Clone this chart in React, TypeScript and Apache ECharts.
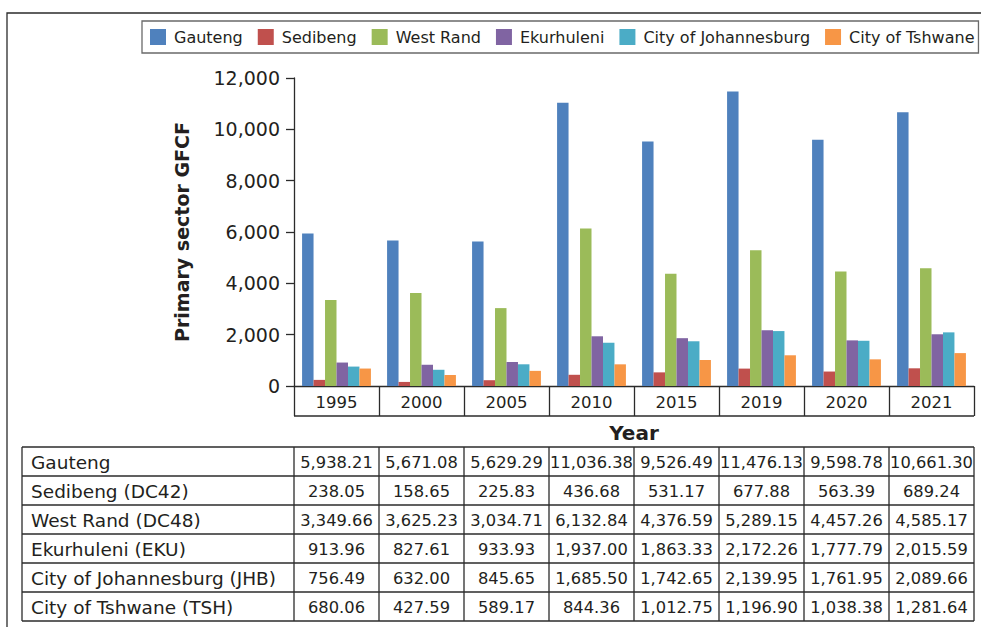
import React, { useEffect, useRef } from "react";
import * as echarts from "echarts";

const years = ["1995", "2000", "2005", "2010", "2015", "2019", "2020", "2021"];
const legendNames = ["Gauteng", "Sedibeng", "West Rand", "Ekurhuleni", "City of Johannesburg", "City of Tshwane"];
const tableNames = [
  "Gauteng",
  "Sedibeng (DC42)",
  "West Rand (DC48)",
  "Ekurhuleni (EKU)",
  "City of Johannesburg (JHB)",
  "City of Tshwane (TSH)",
];
const colors = ["#4F81BD", "#C0504D", "#9BBB59", "#8064A2", "#4BACC6", "#F79646"];

const gauteng = [5938.21, 5671.08, 5629.29, 11036.38, 9526.49, 11476.13, 9598.78, 10661.3];
const sedibeng = [238.05, 158.65, 225.83, 436.68, 531.17, 677.88, 563.39, 689.24];
const westRand = [3349.66, 3625.23, 3034.71, 6132.84, 4376.59, 5289.15, 4457.26, 4585.17];
const ekurhuleni = [913.96, 827.61, 933.93, 1937.0, 1863.33, 2172.26, 1777.79, 2015.59];
const johannesburg = [756.49, 632.0, 845.65, 1685.5, 1742.65, 2139.95, 1761.95, 2089.66];
const tshwane = [680.06, 427.59, 589.17, 844.36, 1012.75, 1196.9, 1038.38, 1281.64];

const seriesData = [gauteng, sedibeng, westRand, ekurhuleni, johannesburg, tshwane];

const FONT = "DejaVu Sans";
const TEXT = "#231f20";
const LINE = "#2b2b2b";

const fmt = (v: number, d = 2) =>
  v.toLocaleString("en-US", { minimumFractionDigits: d, maximumFractionDigits: d });

export default function App() {
  const ref = useRef<HTMLDivElement>(null);
  useEffect(() => {
    if (!ref.current) return;
    const chart = echarts.init(ref.current, undefined, { renderer: "svg" });

    const gridLeft = 294;
    const gridRight = 974;
    const gridTop = 78;
    const gridBottom = 386;
    const cellH = 30;
    const colW = (gridRight - gridLeft) / years.length;

    const tableTop = 447;
    const rowH = 29;
    const tableLeft = 22;

    const graphics: any[] = [];
    graphics.push({
      type: "rect",
      shape: { x: 7, y: 13, width: 1100, height: 800 },
      style: { fill: "none", stroke: LINE, lineWidth: 1.3 },
      silent: true,
    });
    graphics.push({
      type: "line",
      shape: { x1: gridLeft, y1: gridBottom + cellH, x2: gridRight, y2: gridBottom + cellH },
      style: { stroke: LINE, lineWidth: 1.3 },
    });
    for (let r = 0; r <= tableNames.length; r++) {
      const y = tableTop + r * rowH;
      graphics.push({
        type: "line",
        shape: { x1: tableLeft, y1: y, x2: gridRight, y2: y },
        style: { stroke: LINE, lineWidth: 1.3 },
      });
    }
    const vx = [tableLeft];
    for (let c = 0; c <= years.length; c++) vx.push(gridLeft + c * colW);
    vx.forEach((x) =>
      graphics.push({
        type: "line",
        shape: { x1: x, y1: tableTop, x2: x, y2: tableTop + rowH * tableNames.length },
        style: { stroke: LINE, lineWidth: 1.3 },
      })
    );
    tableNames.forEach((name, r) => {
      const cy = tableTop + r * rowH + rowH / 2 + 1;
      graphics.push({
        type: "text",
        x: 31,
        y: cy,
        style: {
          text: name,
          fill: TEXT,
          font: `18.5px "${FONT}"`,
          textAlign: "left",
          textVerticalAlign: "middle",
        },
      });
      seriesData[r].forEach((v, c) => {
        graphics.push({
          type: "text",
          x: gridLeft + c * colW + colW / 2,
          y: cy,
          style: {
            text: fmt(v),
            fill: TEXT,
            font: `16.3px "${FONT}"`,
            textAlign: "center",
            textVerticalAlign: "middle",
          },
        });
      });
    });
    graphics.push({
      type: "text",
      x: (gridLeft + gridRight) / 2,
      y: 433,
      style: {
        text: "Year",
        fill: TEXT,
        font: `bold 20px "${FONT}"`,
        textAlign: "center",
        textVerticalAlign: "middle",
      },
    });

    chart.setOption({
      animation: false,
      color: colors,
      textStyle: { fontFamily: FONT },
      legend: {
        data: legendNames,
        left: 142,
        top: 21,
        itemWidth: 16,
        itemHeight: 16,
        itemGap: 15,
        icon: "rect",
        padding: [8, 4, 8, 8],
        borderColor: "#6a6a6a",
        borderWidth: 1.3,
        textStyle: { fontSize: 16, color: TEXT, fontFamily: FONT, padding: [0, 0, 0, 3] },
      },
      grid: {
        left: gridLeft,
        right: 981 - gridRight,
        top: gridTop,
        bottom: 627 - gridBottom,
        containLabel: false,
      },
      xAxis: {
        type: "category",
        data: years,
        boundaryGap: true,
        axisLine: { show: true, lineStyle: { color: LINE, width: 1.3 } },
        axisTick: { show: true, length: cellH, interval: 0, lineStyle: { color: LINE, width: 1.3 } },
        axisLabel: {
          interval: 0,
          fontSize: 16.5,
          color: TEXT,
          fontFamily: FONT,
          margin: 8,
        },
      },
      yAxis: {
        type: "value",
        min: 0,
        max: 12000,
        interval: 2000,
        name: "Primary sector GFCF",
        nameLocation: "middle",
        nameGap: 103,
        nameTextStyle: { fontSize: 19, fontWeight: "bold", color: TEXT, fontFamily: FONT },
        axisLine: { show: true, lineStyle: { color: LINE, width: 1.3 } },
        axisTick: { show: true, length: 8, lineStyle: { color: LINE, width: 1.3 } },
        axisLabel: {
          fontSize: 19,
          color: TEXT,
          fontFamily: FONT,
          margin: 14,
          formatter: (v: number) => fmt(v, 0),
        },
        splitLine: { show: false },
      },
      series: legendNames.map((n, i) => ({
        name: n,
        type: "bar",
        data: seriesData[i],
        barGap: "0%",
        barCategoryGap: "19%",
      })),
      graphic: graphics,
    });
    return () => chart.dispose();
  }, []);
  return (
    <div
      ref={ref}
      style={{ position: "absolute", left: 0, top: 0, width: 981, height: 627, background: "#fff" }}
    />
  );
}
